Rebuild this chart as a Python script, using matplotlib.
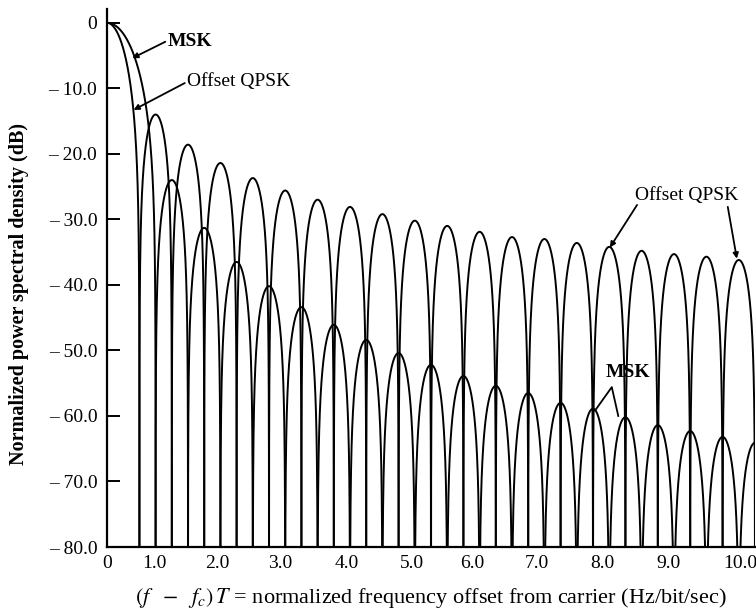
import numpy as np
import matplotlib
matplotlib.use('Agg')
import matplotlib.pyplot as plt

plt.rcParams['font.family'] = ['Liberation Serif', 'DejaVu Serif']
plt.rcParams['mathtext.fontset'] = 'stix'

# spectral nulls, (f - fc)T
oqpsk_nulls = [0.5, 1.0, 1.5, 2.0, 2.5, 3.0, 3.5, 4.0, 4.5, 5.0,
               5.5, 6.0, 6.5, 7.0, 7.5, 8.0, 8.5, 9.0, 9.5, 10.0]
msk_nulls = [0.75, 1.25, 1.75, 2.25, 2.75, 3.25, 3.75, 4.25, 4.75, 5.25,
             5.75, 6.25, 6.75, 7.25, 7.75, 8.25, 8.75, 9.25, 9.75, 10.25]

# sidelobe peak levels (dB), one per gap between nulls
oqpsk_peaks = [-14.0, -18.6, -21.4, -23.7, -25.6, -27.0, -28.1, -29.2, -30.2, -31.0,
               -31.9, -32.7, -33.0, -33.6, -34.2, -34.8, -35.3, -35.7, -36.2]
msk_peaks = [-24.0, -31.3, -36.5, -40.2, -43.4, -46.1, -48.4, -50.4, -52.2, -53.9,
             -55.4, -56.5, -58.0, -58.9, -60.2, -61.4, -62.3, -63.2, -64.1]

x_ticks = [0, 0.73, 1.71, 2.67, 3.70, 4.71, 5.63, 6.64, 7.65, 8.66, 9.77]
x_labels = ['0', '1.0', '2.0', '3.0', '4.0', '5.0', '6.0', '7.0', '8.0', '9.0', '10.0']
y_ticks = [0, -10, -20, -30, -40, -50, -60, -70, -80]
y_labels = ['0', '\u2013 10.0', '\u2013 20.0', '\u2013 30.0', '\u2013 40.0',
            '\u2013 50.0', '\u2013 60.0', '\u2013 70.0', '\u2013 80.0']


def side_lobe(a, b, top, n=800):
    u = np.linspace(0, 1, n)
    with np.errstate(divide='ignore'):
        db = top + 20 * np.log10(np.abs(np.sin(np.pi * u)))
    db[~np.isfinite(db)] = -150
    return a + (b - a) * u, db


def main_lobe(null, n=800):
    u = np.linspace(0, 1, n)
    with np.errstate(divide='ignore'):
        db = 20 * np.log10(np.abs(np.sinc(u)))
    db[~np.isfinite(db)] = -150
    return null * u, db


fig = plt.figure(figsize=(7.56, 6.16), dpi=100)
ax = fig.add_axes([107 / 756, 69 / 616, 648 / 756, 538 / 616])

for nulls, peaks in [(oqpsk_nulls, oqpsk_peaks), (msk_nulls, msk_peaks)]:
    x, y = main_lobe(nulls[0])
    ax.plot(x, y, color='k', lw=1.4)
    for a, b, top in zip(nulls[:-1], nulls[1:], peaks):
        x, y = side_lobe(a, b, top)
        ax.plot(x, y, color='k', lw=1.4)

ax.set_xlim(0, 10.0)
ax.set_ylim(-80, 2.1)
ax.spines['top'].set_visible(False)
ax.spines['right'].set_visible(False)
ax.spines['left'].set_linewidth(1.6)
ax.spines['bottom'].set_linewidth(1.6)

ax.set_xticks(x_ticks)
ax.set_xticklabels(x_labels, fontsize=14)
ax.tick_params(axis='x', length=0, pad=6)
ax.set_yticks(y_ticks)
ax.set_yticklabels(y_labels, fontsize=14)
ax.tick_params(axis='y', direction='in', length=9, width=1.4, pad=7)

ax.set_xlabel(r'$(f\ \ -\ \ f_c)\,T$ = normalized frequency offset from carrier (Hz/bit/sec)',
              fontsize=16, labelpad=10)
ax.set_ylabel('Normalized power spectral density (dB)', fontsize=14.5, fontweight='bold')
ax.yaxis.set_label_coords(-0.121, 0.47)

arrow = dict(arrowstyle='-|>', color='k', lw=1.3, mutation_scale=8, shrinkA=0, shrinkB=0)

ax.text(0.93, -2.9, 'MSK', fontsize=14, fontweight='bold', va='center', ha='left')
ax.annotate('', xy=(0.39, -5.4), xytext=(0.90, -2.9), arrowprops=arrow)

ax.text(1.23, -9.0, 'Offset QPSK', fontsize=14, va='center', ha='left')
ax.annotate('', xy=(0.41, -13.3), xytext=(1.20, -9.2), arrowprops=arrow)

ax.text(8.15, -26.3, 'Offset QPSK', fontsize=14, va='center', ha='left')
ax.annotate('', xy=(7.76, -34.3), xytext=(8.18, -27.8), arrowprops=arrow)
ax.annotate('', xy=(9.72, -36.0), xytext=(9.58, -28.1), arrowprops=arrow)

ax.text(7.69, -53.4, 'MSK', fontsize=14, fontweight='bold', va='center', ha='left')
ax.plot([7.53, 7.79, 7.89], [-59.2, -55.6, -60.0], color='k', lw=1.3)

fig.savefig('out.png', dpi=100)
